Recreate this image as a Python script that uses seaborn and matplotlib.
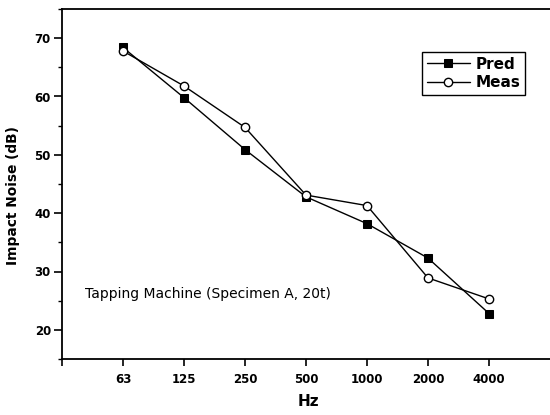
import matplotlib
matplotlib.use("Agg")
import matplotlib.pyplot as plt
import seaborn as sns
import pandas as pd
from matplotlib.ticker import MultipleLocator

freqs = ["63", "125", "250", "500", "1000", "2000", "4000"]
pred = [68.4, 59.8, 50.9, 42.8, 38.2, 32.3, 22.8]
meas = [67.8, 61.8, 54.7, 43.1, 41.3, 28.9, 25.3]

sns.set_style("ticks")
plt.rcParams["font.family"] = ["DejaVu Sans"]
plt.rcParams.update({"text.color": "black", "axes.labelcolor": "black",
                     "xtick.color": "black", "ytick.color": "black"})

df = pd.DataFrame({"pos": range(len(freqs)), "Pred": pred, "Meas": meas})

fig = plt.figure(figsize=(5.5, 4.15), dpi=100)
ax = fig.add_axes([62 / 550, 56 / 415, 488 / 550, 350 / 415])

sns.lineplot(data=df, x="pos", y="Pred", ax=ax, color="black", lw=1.0,
             marker="s", markersize=5.3, markerfacecolor="black",
             markeredgecolor="black", label="Pred")
sns.lineplot(data=df, x="pos", y="Meas", ax=ax, color="black", lw=1.0,
             marker="o", markersize=6, markerfacecolor="white",
             markeredgecolor="black", markeredgewidth=1.0, label="Meas")

ax.set_xlim(-1, 7)
ax.set_ylim(15, 75)
ax.set_xticks(range(-1, len(freqs)))
ax.set_xticklabels([""] + freqs)
ax.set_yticks([20, 30, 40, 50, 60, 70])
ax.yaxis.set_minor_locator(MultipleLocator(5))
ax.tick_params(axis="x", which="major", direction="out", length=5,
               width=1.2, pad=5, labelsize=8.5, colors="black")
ax.tick_params(axis="y", which="major", direction="out", length=6,
               width=1.2, pad=2, labelsize=8.5, colors="black")
ax.tick_params(axis="y", which="minor", direction="out", length=3, width=1.0,
               colors="black")
for lbl in ax.get_xticklabels() + ax.get_yticklabels():
    lbl.set_fontweight("bold")

for side in ["left", "bottom", "top"]:
    ax.spines[side].set_visible(True)
    ax.spines[side].set_color("black")
    ax.spines[side].set_linewidth(1.3)
ax.spines["right"].set_visible(False)

ax.set_xlabel("Hz", fontsize=11, fontweight="bold", color="black")
ax.xaxis.set_label_coords(0.505, -0.1)
ax.set_ylabel("Impact Noise (dB)", fontsize=9.9, fontweight="bold",
              color="black")
ax.yaxis.set_label_coords(-0.086, 0.466)

ax.text(-0.625, 26.1, "Tapping Machine (Specimen A, 20t)", fontsize=10,
        va="center", ha="left", color="black")

leg = ax.legend(loc="upper right", bbox_to_anchor=(0.949, 0.877),
                fontsize=11, frameon=True, fancybox=False, framealpha=1,
                handlelength=2.8, borderpad=0.3, labelspacing=0.25,
                handletextpad=0.4, borderaxespad=0)
leg.get_frame().set_edgecolor("black")
leg.get_frame().set_linewidth(1.0)
for t in leg.get_texts():
    t.set_fontweight("bold")
    t.set_color("black")

fig.savefig("out.png", dpi=100)
